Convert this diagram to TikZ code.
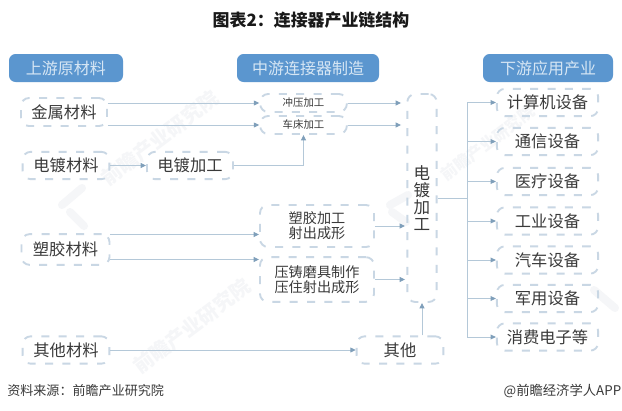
\documentclass[tikz,border=0pt]{standalone}
\usepackage{fontspec}
\setmainfont{Noto Sans CJK SC}
\usetikzlibrary{arrows.meta}
\definecolor{hdr}{HTML}{5B96CF}
\definecolor{hdrtxt}{HTML}{D6E6F4}
\definecolor{dash}{HTML}{C9D7E4}
\definecolor{lin}{HTML}{B4C8D8}
\definecolor{tip}{HTML}{7F9FBA}
\definecolor{ink}{HTML}{3A3A3A}
\definecolor{wm}{HTML}{F5F6F8}
\tikzset{
  x=0.75pt,y=-0.75pt,
  header/.style={draw=none,fill=hdr,rounded corners=5pt,text=hdrtxt,font=\fontsize{12}{14}\selectfont,inner sep=0pt},
  dbox/.style={draw=dash,line width=1.4pt,dash pattern=on 6pt off 7pt,rounded corners=6pt,text=ink,inner sep=0pt,align=center},
  big/.style={font=\fontsize{12.2}{14}\selectfont},
  mid/.style={font=\fontsize{10.6}{11.3}\selectfont},
  small/.style={font=\fontsize{7.8}{10}\selectfont},
  conn/.style={draw=lin,line width=0.7pt,-{Triangle[length=4pt,width=3.6pt,color=tip]}},
  plain/.style={draw=lin,line width=0.7pt},
  water/.style={text=wm,font=\fontsize{15}{18}\bfseries\selectfont,rotate=37,inner sep=0pt},
  logo/.style={draw=wm,line width=6pt,line cap=round}
}
\begin{document}
\begin{tikzpicture}
\path[use as bounding box,fill=white] (0,0) rectangle (622,411);
% watermarks
\node[water] (w1) at (160,138) {前瞻产业研究院};
\node[water] (w2) at (192,326) {前瞻产业研究院};
\node[water,font=\fontsize{12}{14}\bfseries\selectfont] (w3) at (488,143) {前瞻产业研究院};
\draw[logo] (62,205) -- (82,188);
\draw[logo] (70,212) -- (84,226);
\draw[logo] (390,205) -- (408,195);
\draw[logo] (392,212) -- (406,222);
\draw[logo] (594,290) -- (615,308);
% title
\node[font=\fontsize{12.7}{16}\bfseries\selectfont,text=black!90,inner sep=0pt] (title) at (311,20) {图表2：连接器产业链结构};
% headers
\node[header,minimum width=85.5pt,minimum height=21pt] (h1) at (66,68) {上游原材料};
\node[header,minimum width=106.5pt,minimum height=21pt] (h2) at (308,68) {中游连接器制造};
\node[header,minimum width=97.5pt,minimum height=21pt] (h3) at (548,68) {下游应用产业};
% left column
\node[dbox,big,minimum width=64.5pt,minimum height=21pt] (jinshu) at (64,112) {金属材料};
\node[dbox,big,minimum width=65pt,minimum height=20.5pt] (dudu) at (66,165.5) {电镀材料};
\node[dbox,big,minimum width=64.5pt,minimum height=20.5pt] (dujg) at (190,165.5) {电镀加工};
\node[dbox,big,minimum width=66pt,minimum height=23pt] (suliao) at (65.5,249.5) {塑胶材料};
\node[dbox,big,minimum width=65pt,minimum height=20.5pt] (qita) at (66,350) {其他材料};
% middle column
\node[dbox,small,minimum width=65pt,minimum height=13.5pt] (chong) at (303.5,103) {冲压加工};
\node[dbox,small,minimum width=65pt,minimum height=13.5pt] (che) at (303.5,125) {车床加工};
\node[dbox,mid,minimum width=85.5pt,minimum height=31.5pt] (sujg) at (317,226) {塑胶加工\\射出成形};
\node[dbox,mid,minimum width=85.5pt,minimum height=33.5pt] (yazhu) at (317,279.5) {压铸磨具制作\\压住射出成形};
\node[dbox,big,minimum width=65pt,minimum height=20.5pt] (qt) at (400,350) {其他};
\node[dbox,font=\fontsize{12.4}{12.8}\selectfont,minimum width=22pt,minimum height=156pt] (tall) at (422,198) {电\\镀\\加\\工};
% right column
\node[dbox,big,minimum width=76pt,minimum height=20.5pt] (r1) at (547.5,102.5) {计算机设备};
\node[dbox,big,minimum width=76pt,minimum height=20.5pt] (r2) at (547.5,141.5) {通信设备};
\node[dbox,big,minimum width=76pt,minimum height=20.5pt] (r3) at (547.5,181.5) {医疗设备};
\node[dbox,big,minimum width=76pt,minimum height=20.5pt] (r4) at (547.5,221) {工业设备};
\node[dbox,big,minimum width=76pt,minimum height=20.5pt] (r5) at (547.5,260) {汽车设备};
\node[dbox,big,minimum width=76pt,minimum height=20.5pt] (r6) at (547.5,298.5) {军用设备};
\node[dbox,big,minimum width=76pt,minimum height=20.5pt] (r7) at (547.5,337) {消费电子等};
% footer
\node[font=\fontsize{9.8}{12}\selectfont,text=ink,anchor=west,inner sep=0pt] (src) at (7,391) {资料来源：前瞻产业研究院};
\node[font=\fontsize{10}{12}\selectfont,text=ink,anchor=east,inner sep=0pt] (app) at (621.5,391) {@前瞻经济学人APP};
% connectors
\draw[conn] (jinshu.east |- chong.west) -- (chong.west);
\draw[conn] (jinshu.east |- che.west) -- (che.west);
\draw[conn] (dudu) -- (dujg);
\draw[conn] (dujg.east) -| (che.south);
\draw[conn] ([yshift=11.25pt]suliao.east) -- ([yshift=11.25pt]suliao.east -| sujg.west);
\draw[conn] ([yshift=-7.5pt]suliao.east) -- ([yshift=-7.5pt]suliao.east -| yazhu.west);
\draw[conn] (qita) -- (qt);
\draw[conn,shorten >=4pt] (chong.east) -- (chong.east -| tall.west);
\draw[conn,shorten >=4pt] (che.east) -- (che.east -| tall.west);
\draw[conn,shorten >=1pt] (sujg.east) -- (sujg.east -| tall.west);
\draw[conn,shorten >=1pt] (yazhu.east) -- (yazhu.east -| tall.west);
\draw[conn] (qt.north -| tall.south) -- (tall.south);
\coordinate (trunk) at (467,198);
\draw[plain] (tall.east) -- (trunk);
\draw[plain] (trunk |- r1.west) -- (trunk |- r7.west);
\foreach \n in {r1,r2,r3,r4,r5,r6,r7} \draw[conn] (trunk |- \n.west) -- (\n.west);
\end{tikzpicture}
\end{document}
